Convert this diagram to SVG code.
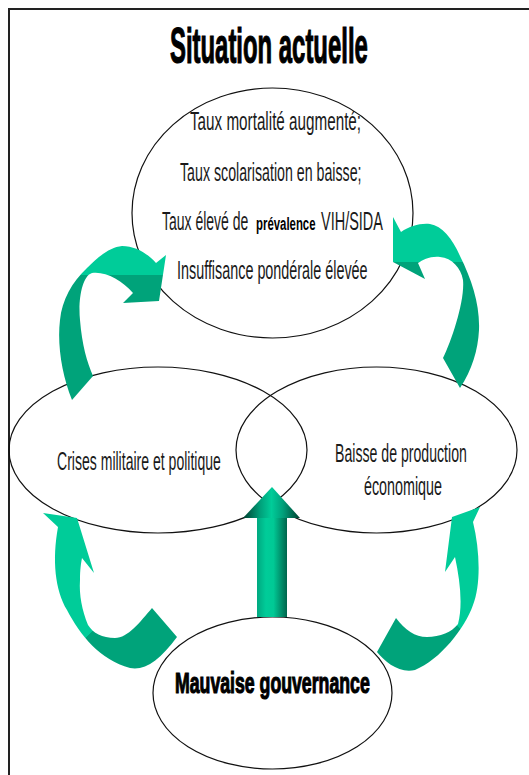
<svg xmlns="http://www.w3.org/2000/svg" width="529" height="775" viewBox="0 0 529 775">
<style>
.node { fill: none; stroke: #111; stroke-width: 1.2; }
.t { font-family: "Liberation Sans", Arial, sans-serif; font-size: 25px; fill: #1a1a1a; }
.b { font-family: "Liberation Sans", Arial, sans-serif; font-weight: bold; fill: #000; }
.heavy { stroke: #000; stroke-width: 1.2; }
</style>
<defs>
<linearGradient id="gTL" gradientUnits="userSpaceOnUse" x1="0" y1="240" x2="0" y2="400">
<stop offset="0" stop-color="#00CC99"/><stop offset="0.22" stop-color="#00CC99"/><stop offset="0.22" stop-color="#00A37A"/><stop offset="1" stop-color="#00A37A"/>
</linearGradient>
<linearGradient id="gTR" gradientUnits="userSpaceOnUse" x1="0" y1="210" x2="0" y2="390">
<stop offset="0" stop-color="#00CC99"/><stop offset="0.29" stop-color="#00CC99"/><stop offset="0.29" stop-color="#00A37A"/><stop offset="1" stop-color="#00A37A"/>
</linearGradient>
<linearGradient id="gBL" gradientUnits="userSpaceOnUse" x1="60" y1="610" x2="110" y2="660">
<stop offset="0" stop-color="#00CC99"/><stop offset="0.53" stop-color="#00CC99"/><stop offset="0.53" stop-color="#00A37A"/><stop offset="1" stop-color="#00A37A"/>
</linearGradient>
<linearGradient id="gBR" gradientUnits="userSpaceOnUse" x1="490" y1="610" x2="440" y2="660">
<stop offset="0" stop-color="#00CC99"/><stop offset="0.49" stop-color="#00CC99"/><stop offset="0.49" stop-color="#00A37A"/><stop offset="1" stop-color="#00A37A"/>
</linearGradient>
<linearGradient id="gShaft" x1="0" y1="0" x2="1" y2="0">
<stop offset="0" stop-color="#00A880"/><stop offset="0.3" stop-color="#00CC99"/><stop offset="0.55" stop-color="#00C995"/><stop offset="1" stop-color="#00654C"/>
</linearGradient>
<linearGradient id="gHead" x1="0" y1="0" x2="1" y2="0">
<stop offset="0" stop-color="#003F2F"/><stop offset="0.3" stop-color="#00A07A"/><stop offset="0.5" stop-color="#00CC99"/><stop offset="0.7" stop-color="#00A07A"/><stop offset="1" stop-color="#003F2F"/>
</linearGradient>
</defs>
<rect width="529" height="775" fill="#fff"/>
<g id="frame" stroke="#222" stroke-width="2" fill="none">
<path d="M9,775 V9 H529"/>
</g>
<g id="title">
<text class="b heavy" font-size="50" transform="translate(170,63) scale(0.478,1)">Situation actuelle</text>
</g>
<g id="node-situation">
<ellipse class="node" cx="272.5" cy="213" rx="140.5" ry="125"/>
<text class="t" transform="translate(190,130) scale(0.61,1)">Taux mortalité augmenté;</text>
<text class="t" transform="translate(180,181) scale(0.568,1)">Taux scolarisation en baisse;</text>
<text class="t" transform="translate(162,230) scale(0.56,1)">Taux élevé de</text>
<text class="b" font-size="19" transform="translate(256,230) scale(0.6,1)">prévalence</text>
<text class="t" transform="translate(321,230) scale(0.58,1)">VIH/SIDA</text>
<text class="t" transform="translate(177,279) scale(0.575,1)">Insuffisance pondérale élevée</text>
</g>
<g id="node-crises">
<ellipse class="node" cx="158" cy="450" rx="149" ry="83"/>
<text class="t" transform="translate(57,470) scale(0.562,1)">Crises militaire et politique</text>
</g>
<g id="node-baisse">
<ellipse class="node" cx="376.5" cy="450" rx="140.5" ry="83"/>
<text class="t" transform="translate(335,462) scale(0.565,1)">Baisse de production</text>
<text class="t" transform="translate(364,495) scale(0.573,1)">économique</text>
</g>
<g id="node-gouvernance">
<ellipse class="node" cx="272.5" cy="693" rx="119.5" ry="76"/>
<text class="b heavy" font-size="30" transform="translate(175,693) scale(0.59,1)">Mauvaise gouvernance</text>
</g>
<g id="connectors">
<path fill="url(#gTL)" d="M72,400 C62,375 57,345 60,320 C62,300 72,282 87,268 C98,257 110,247 122,246 C136,246 148,254 156,263 L166,255 L159,301 L123,303 L133,293 C122,280 105,271 92,273 C82,276 78,300 80,320 C82,345 87,362 93,376 Z"/>
<path fill="url(#gTR)" d="M401,232 C410,226 420,223 430,224 C442,226 452,238 460,256 C472,280 480,305 479,330 C478,350 472,370 460,388 L443,358 C452,340 465,300 463,280 C461,268 452,258 440,257 C430,256 423,260 418,263 L425,279 L393,262 L393,217 Z"/>
<path fill="url(#gBL)" d="M58,527 C52,560 55,590 67,610 C80,635 100,660 130,668 C145,671 160,660 177,637 L152,608 C140,622 128,638 115,638 C102,638 93,633 88,625 C82,610 79,595 80,580 C80,570 81,563 82,558 L94,573 L77,518 L43,513 Z"/>
<path fill="url(#gBR)" d="M473,522 C480,550 481,585 473,605 C465,628 440,660 415,670 C400,674 385,662 377,652 L396,618 C405,630 415,637 427,637 C440,637 452,632 458,624 C463,605 460,580 455,557 L445,572 L452,517 L480,507 Z"/>
<rect x="257" y="517" width="30" height="100" fill="url(#gShaft)"/>
<polygon points="272,487 300,518 243,518" fill="url(#gHead)"/>
</g>
</svg>
